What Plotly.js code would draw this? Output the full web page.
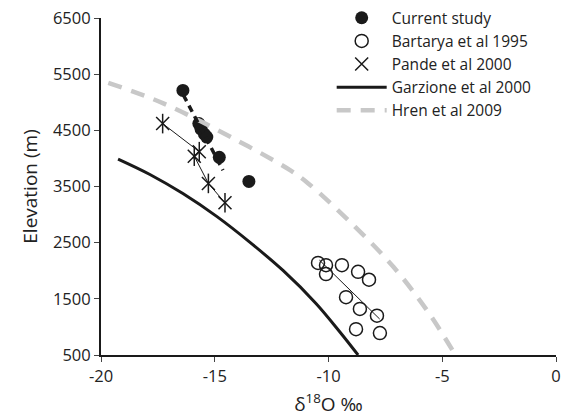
<!DOCTYPE html>
<html>
<head>
<meta charset="utf-8">
<script src="https://cdn.plot.ly/plotly-3.0.1.min.js"></script>
<style>html,body{margin:0;padding:0;background:#fff;}#chart{width:564px;height:417px;}</style>
</head>
<body>
<div id="chart"></div>
<script>
// Current study (filled circles)
const currentX = [-16.4, -15.7, -15.6, -15.45, -15.35, -14.8, -13.5];
const currentY = [5210, 4620, 4520, 4430, 4380, 4020, 3590];
// Current study trend (dashed)
const currentTrendX = [-16.38, -14.64];
const currentTrendY = [5130, 3790];

// Bartarya et al 1995 (open circles)
const bartaryaX = [-10.46, -10.11, -10.11, -9.41, -8.70, -8.22, -9.23, -8.62, -7.87, -8.79, -7.74];
const bartaryaY = [2140, 2100, 1940, 2100, 1980, 1840, 1530, 1320, 1200, 960, 890];
const bartaryaTrendX = [-10.4, -7.75];
const bartaryaTrendY = [2190, 1140];

// Pande et al 2000 (stars)
const pandeX = [-17.29, -15.68, -15.9, -15.28, -14.55];
const pandeY = [4620, 4120, 4040, 3555, 3210];

// Garzione et al 2000 (solid curve)
const garzioneX = [-19.25, -17.85, -16.40, -14.90, -13.45, -12.0, -10.55, -9.49, -8.70];
const garzioneY = [3988, 3714, 3374, 2963, 2505, 2005, 1418, 906, 500];

// Hren et al 2009 (grey dashed curve)
const hrenX = [-19.68, -17.26, -14.04, -11.69, -10.89, -8.84, -7.15, -5.68, -4.42];
const hrenY = [5345, 4980, 4325, 3790, 3555, 2785, 2070, 1300, 500];

const xTicks = [-20, -15, -10, -5, 0];
const yTicks = [500, 1500, 2500, 3500, 4500, 5500, 6500];

const FONT = '"Open Sans", Lato, sans-serif';
const INK = '#1a1a1a';

const traces = [
  {x: currentX, y: currentY, mode: 'markers', name: 'Current study',
   marker: {symbol: 'circle', size: 13, color: INK}},
  {x: bartaryaX, y: bartaryaY, mode: 'markers', name: 'Bartarya et al 1995',
   marker: {symbol: 'circle-open', size: 13, color: INK, line: {width: 1.5, color: INK}}},
  {x: pandeX, y: pandeY, mode: 'markers', name: 'Pande et al 2000',
   marker: {symbol: 'x-thin-open', size: 13, color: INK, line: {width: 1.5, color: INK}}},
  {x: garzioneX, y: garzioneY, mode: 'lines', name: 'Garzione et al 2000',
   line: {color: INK, width: 3, shape: 'spline', smoothing: 1}},
  {x: hrenX, y: hrenY, mode: 'lines', name: 'Hren et al 2009',
   line: {color: '#c8c8c8', width: 4.5, dash: '14px,10px', shape: 'spline', smoothing: 1}},
  // extra, unlisted pieces
  {x: pandeX, y: pandeY, mode: 'lines', showlegend: false, hoverinfo: 'skip',
   line: {color: INK, width: 1}},
  {x: pandeX, y: pandeY, mode: 'markers', showlegend: false, hoverinfo: 'skip',
   marker: {symbol: 'line-ns-open', size: 14, color: INK, line: {width: 1.5, color: INK}}},
  {x: currentTrendX, y: currentTrendY, mode: 'lines', showlegend: false, hoverinfo: 'skip',
   line: {color: INK, width: 3.5, dash: '7px,5px'}},
  {x: bartaryaTrendX, y: bartaryaTrendY, mode: 'lines', showlegend: false, hoverinfo: 'skip',
   line: {color: INK, width: 1}}
];

const layout = {
  width: 564, height: 417,
  margin: {l: 101, r: 8, t: 18, b: 62, autoexpand: false},
  paper_bgcolor: '#fff', plot_bgcolor: '#fff',
  font: {family: FONT, size: 16, color: '#222'},
  showlegend: true,
  legend: {x: 0.507, y: 1.05, xanchor: 'left', yanchor: 'top', bgcolor: 'rgba(0,0,0,0)',
           font: {family: FONT, size: 15.5, color: '#222'}, itemwidth: 50, tracegroupgap: 0,
           traceorder: 'normal'},
  xaxis: {range: [-20, 0], tickvals: xTicks, ticktext: xTicks.map(String), showgrid: false, zeroline: false,
          showline: true, linecolor: INK, linewidth: 2, ticks: 'outside', ticklen: 5, tickcolor: '#444',
          tickfont: {family: FONT, size: 16.5, color: '#222'},
          title: {text: 'δ<sup>18</sup>O ‰', font: {family: FONT, size: 19, color: '#222'}, standoff: 12}},
  yaxis: {range: [500, 6500], tickvals: yTicks, ticktext: yTicks.map(String), showgrid: false, zeroline: false,
          showline: true, linecolor: INK, linewidth: 2, ticks: 'outside', ticklen: 5, tickcolor: '#444',
          tickfont: {family: FONT, size: 16.5, color: '#222'},
          title: {text: 'Elevation (m)', font: {family: FONT, size: 19, color: '#222'}, standoff: 10}}
};

Plotly.newPlot('chart', traces, layout, {displayModeBar: false, staticPlot: true});
</script>
</body>
</html>
